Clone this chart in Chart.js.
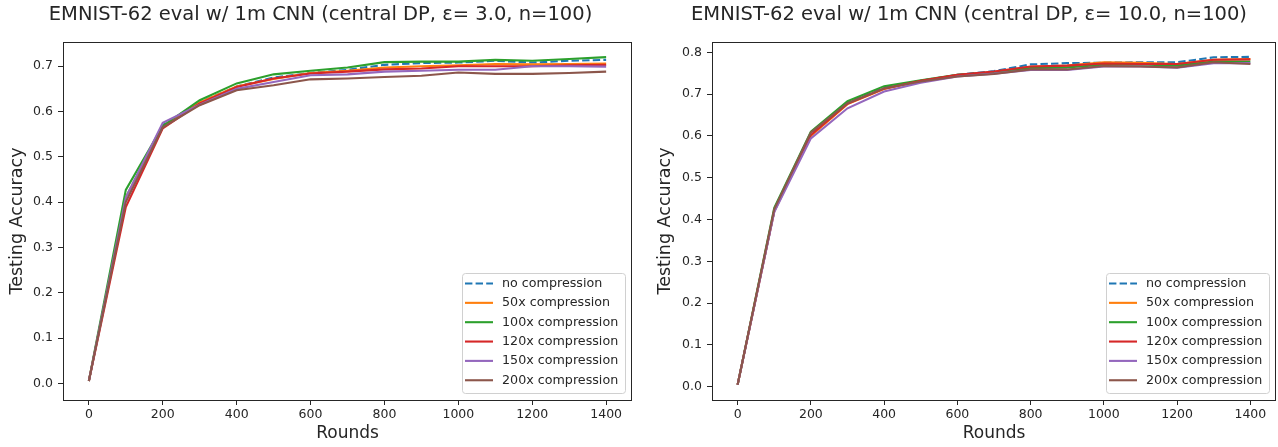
<!DOCTYPE html>
<html>
<head>
<meta charset="utf-8">
<script src="https://cdn.jsdelivr.net/npm/chart.js@4/dist/chart.umd.min.js"></script>
<style>
  html, body { margin: 0; padding: 0; background: #fff; }
  .panel { position: absolute; top: 0; height: 447px; }
  #leftPanel  { left: 0;     width: 640px; }
  #rightPanel { left: 640px; width: 638px; }
</style>
</head>
<body>
<div class="panel" id="leftPanel"><canvas id="chartLeft" width="640" height="447"></canvas></div>
<div class="panel" id="rightPanel"><canvas id="chartRight" width="638" height="447"></canvas></div>
<script>
// ---- Data ----
const rounds = [0, 100, 200, 300, 400, 500, 600, 700, 800, 900, 1000, 1100, 1200, 1300, 1400];
const xTicks = [0, 200, 400, 600, 800, 1000, 1200, 1400];
const yTicksLeft  = [0, 0.1, 0.2, 0.3, 0.4, 0.5, 0.6, 0.7];
const yTicksRight = [0, 0.1, 0.2, 0.3, 0.4, 0.5, 0.6, 0.7, 0.8];

const seriesLabels = ["no compression", "50x compression", "100x compression",
                      "120x compression", "150x compression", "200x compression"];
const seriesColors = ["#1f77b4", "#ff7f0e", "#2ca02c", "#d62728", "#9467bd", "#8c564b"];

// eps = 3.0
const eps3NoComp = [0.005, 0.41, 0.57, 0.62, 0.655, 0.675, 0.685, 0.692, 0.703, 0.707, 0.708, 0.712, 0.708, 0.712, 0.714];
const eps3Comp50  = [0.005, 0.41, 0.567, 0.62, 0.655, 0.672, 0.685, 0.69, 0.697, 0.70, 0.702, 0.705, 0.704, 0.705, 0.706];
const eps3Comp100 = [0.005, 0.427, 0.568, 0.625, 0.662, 0.682, 0.69, 0.697, 0.709, 0.71, 0.71, 0.714, 0.712, 0.716, 0.72];
const eps3Comp120 = [0.005, 0.389, 0.563, 0.618, 0.654, 0.673, 0.684, 0.688, 0.693, 0.695, 0.70, 0.70, 0.70, 0.702, 0.703];
const eps3Comp150 = [0.005, 0.41, 0.575, 0.615, 0.65, 0.665, 0.68, 0.682, 0.688, 0.69, 0.692, 0.692, 0.70, 0.70, 0.699];
const eps3Comp200 = [0.005, 0.40, 0.565, 0.614, 0.647, 0.658, 0.671, 0.673, 0.676, 0.679, 0.686, 0.683, 0.683, 0.685, 0.688];

// eps = 10.0
const eps10NoComp = [0.005, 0.42, 0.605, 0.68, 0.715, 0.732, 0.746, 0.755, 0.771, 0.774, 0.775, 0.776, 0.776, 0.788, 0.789];
const eps10Comp50  = [0.005, 0.42, 0.60, 0.676, 0.712, 0.731, 0.745, 0.753, 0.765, 0.768, 0.776, 0.775, 0.772, 0.782, 0.784];
const eps10Comp100 = [0.005, 0.428, 0.61, 0.683, 0.719, 0.733, 0.746, 0.752, 0.762, 0.764, 0.77, 0.771, 0.768, 0.778, 0.778];
const eps10Comp120 = [0.005, 0.42, 0.602, 0.677, 0.713, 0.732, 0.746, 0.754, 0.766, 0.768, 0.773, 0.772, 0.772, 0.782, 0.783];
const eps10Comp150 = [0.005, 0.418, 0.594, 0.666, 0.706, 0.727, 0.742, 0.749, 0.758, 0.758, 0.766, 0.766, 0.763, 0.774, 0.774];
const eps10Comp200 = [0.005, 0.425, 0.608, 0.678, 0.714, 0.73, 0.742, 0.748, 0.759, 0.759, 0.767, 0.766, 0.764, 0.776, 0.772];

const FONT = "'DejaVu Sans', sans-serif";
const INK = "#262626";

// ---- Plugins: panel title, box frame, legend inside lower right ----
const panelTitle = {
  id: "panelTitle",
  afterDraw(chart, args, opts) {
    const { ctx, chartArea: a } = chart;
    ctx.save();
    ctx.font = "19.5px " + FONT;
    ctx.fillStyle = INK;
    ctx.textAlign = "center";
    ctx.textBaseline = "middle";
    ctx.fillText(opts.text, (a.left + a.right) / 2 + opts.shift, 15);
    ctx.restore();
  }
};

const frameBox = {
  id: "frameBox",
  afterDatasetsDraw(chart) {
    const { ctx, chartArea: a } = chart;
    ctx.save();
    ctx.strokeStyle = INK;
    ctx.lineWidth = 1;
    ctx.strokeRect(Math.round(a.left) + 0.5, Math.round(a.top) + 0.5,
                   Math.round(a.right - a.left) - 1, Math.round(a.bottom - a.top));
    ctx.restore();
  }
};

const insideLegend = {
  id: "insideLegend",
  afterDraw(chart) {
    const { ctx, chartArea: a } = chart;
    const w = 163, h = 120;
    const x = a.right - 7 - w, y = a.bottom - 7 - h;
    ctx.save();
    ctx.beginPath();
    ctx.roundRect(x + 0.5, y + 0.5, w, h, 3);
    ctx.fillStyle = "rgba(255,255,255,0.8)";
    ctx.fill();
    ctx.strokeStyle = "#d0d0d0";
    ctx.lineWidth = 1;
    ctx.stroke();
    ctx.font = "12.7px " + FONT;
    ctx.textBaseline = "middle";
    chart.data.datasets.forEach((ds, i) => {
      const cy = y + 10.5 + i * 19.35;
      ctx.beginPath();
      ctx.setLineDash(ds.borderDash || []);
      ctx.strokeStyle = ds.borderColor;
      ctx.lineWidth = ds.borderWidth;
      ctx.moveTo(x + 3, cy);
      ctx.lineTo(x + 31, cy);
      ctx.stroke();
      ctx.setLineDash([]);
      ctx.fillStyle = INK;
      ctx.fillText(ds.label, x + 40, cy);
    });
    ctx.restore();
  }
};

// ---- Build one panel ----
function buildChart(canvasId, titleText, titleShift, seriesData, yTicks, yMin, yMax, yAxisWidth, yTitlePad, padRight) {
  const datasets = seriesData.map((values, i) => ({
    label: seriesLabels[i],
    data: rounds.map((r, k) => ({ x: r, y: values[k] })),
    borderColor: seriesColors[i],
    backgroundColor: seriesColors[i],
    borderWidth: 2.1,
    borderDash: i === 0 ? [7.4, 3.2] : [],
    pointRadius: 0,
    tension: 0,
    order: seriesData.length - i
  }));

  return new Chart(document.getElementById(canvasId), {
    type: "line",
    data: { datasets },
    options: {
      responsive: false,
      animation: false,
      layout: { padding: { left: 0, right: padRight, top: 42, bottom: 0 } },
      plugins: {
        legend: { display: false },
        tooltip: { enabled: false },
        title: { display: false },
        panelTitle: { text: titleText, shift: titleShift }
      },
      scales: {
        x: {
          type: "linear",
          min: -70,
          max: 1470,
          afterFit: s => { s.height = 47; },
          afterBuildTicks: s => { s.ticks = xTicks.map(v => ({ value: v })); },
          grid: { display: true, drawOnChartArea: false, drawTicks: true, tickLength: 5, tickColor: INK },
          border: { display: false },
          ticks: { color: INK, padding: 2, maxRotation: 0, font: { family: FONT, size: 12.5 },
                   callback: v => String(v) },
          title: { display: true, text: "Rounds", color: INK,
                   font: { family: FONT, size: 17 }, padding: { top: 0, bottom: 3 } }
        },
        y: {
          type: "linear",
          min: yMin,
          max: yMax,
          afterFit: s => { s.width = yAxisWidth; },
          afterBuildTicks: s => { s.ticks = yTicks.map(v => ({ value: v })); },
          grid: { display: true, drawOnChartArea: false, drawTicks: true, tickLength: 5, tickColor: INK },
          border: { display: false },
          ticks: { color: INK, padding: 5, font: { family: FONT, size: 12.5 },
                   callback: v => Number(v).toFixed(1) },
          title: { display: true, text: "Testing Accuracy", color: INK,
                   font: { family: FONT, size: 17.5 }, padding: { top: yTitlePad, bottom: 0 } }
        }
      }
    },
    plugins: [panelTitle, frameBox, insideLegend]
  });
}

buildChart("chartLeft", "EMNIST-62 eval w/ 1m CNN (central DP, \u03B5= 3.0, n=100)", -27,
  [eps3NoComp, eps3Comp50, eps3Comp100, eps3Comp120, eps3Comp150, eps3Comp200],
  yTicksLeft, -0.0368, 0.7534, 63, 7, 8);

buildChart("chartRight", "EMNIST-62 eval w/ 1m CNN (central DP, \u03B5= 10.0, n=100)", -25,
  [eps10NoComp, eps10Comp50, eps10Comp100, eps10Comp120, eps10Comp150, eps10Comp200],
  yTicksRight, -0.0318, 0.8246, 72, 15, 2);
</script>
</body>
</html>
